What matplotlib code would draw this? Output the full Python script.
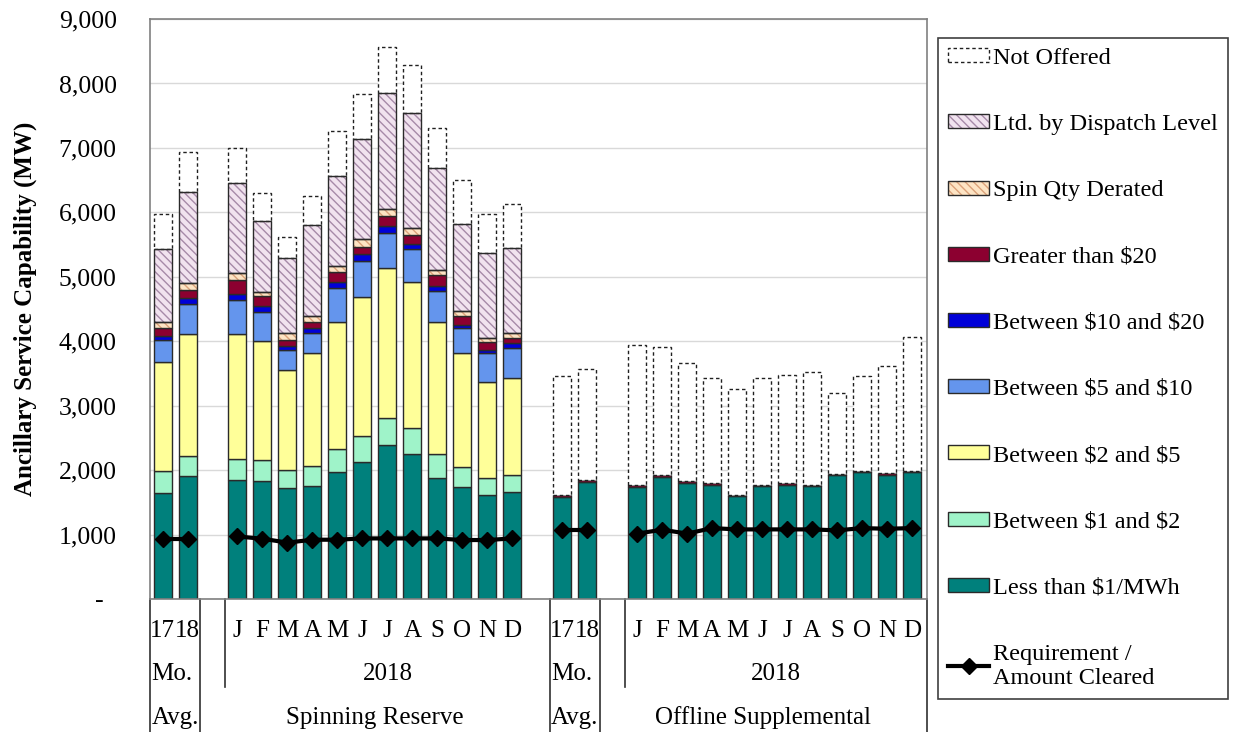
import matplotlib
matplotlib.use("Agg")
import matplotlib.pyplot as plt
from matplotlib.patches import Rectangle
from matplotlib.lines import Line2D
from matplotlib.legend_handler import HandlerTuple
import matplotlib.transforms as mtransforms
import numpy as np

plt.rcParams["font.family"] = ["Liberation Serif", "DejaVu Serif"]
plt.rcParams["hatch.linewidth"] = 1.0
plt.rcParams["text.parse_math"] = False

# bar order: spinning (17 avg, 18 avg, J..D), offline (17 avg, 18 avg, J..D)
months = ["J", "F", "M", "A", "M", "J", "J", "A", "S", "O", "N", "D"]
avg_labels = ["17", "18"]

# stacked segment values [MW]
less_1 = [1650, 1905, 1845, 1825, 1720, 1750, 1965, 2120, 2395, 2255, 1885, 1740, 1610, 1660,
          1585, 1820, 1740, 1895, 1805, 1775, 1595, 1750, 1775, 1750, 1920, 1965, 1930, 1965]
btw_1_2 = [340, 320, 325, 325, 275, 320, 355, 410, 410, 400, 370, 305, 275, 260,
           0, 0, 0, 0, 0, 0, 0, 0, 0, 0, 0, 0, 0, 0]
btw_2_5 = [1680, 1895, 1950, 1860, 1555, 1740, 1980, 2155, 2335, 2260, 2045, 1775, 1475, 1510,
           0, 0, 0, 0, 0, 0, 0, 0, 0, 0, 0, 0, 0, 0]
btw_5_10 = [345, 460, 520, 445, 320, 320, 520, 565, 540, 510, 480, 385, 450, 460,
            0, 0, 0, 0, 0, 0, 0, 0, 0, 0, 0, 0, 0, 0]
btw_10_20 = [60, 90, 90, 90, 60, 70, 95, 110, 105, 85, 75, 50, 60, 75,
             0, 0, 0, 0, 0, 0, 0, 0, 0, 0, 0, 0, 0, 0]
gt_20 = [125, 125, 225, 155, 95, 105, 155, 105, 155, 140, 170, 135, 115, 90,
         25, 25, 25, 25, 25, 25, 25, 25, 25, 25, 25, 25, 25, 25]
spin_derated = [105, 105, 100, 60, 110, 80, 90, 120, 110, 105, 85, 75, 65, 75,
                0, 0, 0, 0, 0, 0, 0, 0, 0, 0, 0, 0, 0, 0]
ltd_dispatch = [1125, 1420, 1405, 1105, 1150, 1415, 1400, 1555, 1800, 1780, 1585, 1360, 1320, 1310,
                0, 0, 0, 0, 0, 0, 0, 0, 0, 0, 0, 0, 0, 0]
not_offered = [545, 615, 540, 430, 325, 460, 705, 690, 720, 755, 615, 675, 600, 695,
               1855, 1730, 2175, 1985, 1835, 1630, 1635, 1655, 1680, 1755, 1250, 1475, 1665, 2075]

requirement = [935, 935, 970, 935, 875, 920, 920, 940, 940, 940, 940, 915, 915, 940,
               1065, 1065, 1015, 1075, 1015, 1100, 1080, 1080, 1080, 1080, 1065, 1100, 1090, 1100]

yticks = [0, 1000, 2000, 3000, 4000, 5000, 6000, 7000, 8000, 9000]

# slot positions (gaps between groups)
pos = np.array([0, 1] + list(range(3, 15)) + [16, 17] + list(range(19, 31)))

series = [
    ("Less than $1/MWh", less_1, "#00807c", None, None),
    ("Between $1 and $2", btw_1_2, "#9ff3c9", None, None),
    ("Between $2 and $5", btw_2_5, "#ffff99", None, None),
    ("Between $5 and $10", btw_5_10, "#6495ed", None, None),
    ("Between $10 and $20", btw_10_20, "#0000d8", None, None),
    ("Greater than $20", gt_20, "#8c0030", None, None),
    ("Spin Qty Derated", spin_derated, "#fde4c4", "#dba27a", "\\\\\\\\"),
    ("Ltd. by Dispatch Level", ltd_dispatch, "#f1e3ef", "#a68aa8", "\\\\\\\\"),
]

fig = plt.figure(figsize=(12.33, 7.32), dpi=100)
ax = fig.add_axes([0.1217, 0.1817, 0.6301, 0.7923])

w = 0.72
edge = "#2a2a2a"
bottom = np.zeros(len(pos))
handles = {}
for name, vals, col, hcol, hatch in series:
    v = np.array(vals, dtype=float)
    m = v > 0
    if hatch is None:
        ax.bar(pos[m], v[m], bottom=bottom[m], width=w, color=col,
               edgecolor=edge, linewidth=1, zorder=2)
        handles[name] = Rectangle((0, 0), 1, 1, facecolor=col, edgecolor=edge, linewidth=1)
    else:
        # hatch takes the edge colour, so draw the outline as a second bar
        ax.bar(pos[m], v[m], bottom=bottom[m], width=w, color=col,
               edgecolor=hcol, hatch=hatch, linewidth=0, zorder=2)
        ax.bar(pos[m], v[m], bottom=bottom[m], width=w, fill=False,
               edgecolor=edge, linewidth=1, zorder=3)
        handles[name] = (Rectangle((0, 0), 1, 1, facecolor=col, edgecolor=hcol, hatch=hatch, linewidth=0),
                         Rectangle((0, 0), 1, 1, fill=False, edgecolor=edge, linewidth=1))
    bottom += v

v = np.array(not_offered, dtype=float)
ax.bar(pos, v, bottom=bottom, width=w, color="white", edgecolor="#202020",
       linewidth=1, linestyle=(0, (2.5, 2)), zorder=2)
handles["Not Offered"] = Rectangle((0, 0), 1, 1, facecolor="white", edgecolor="#202020",
                                   linewidth=1, linestyle=(0, (2.5, 2)))

# requirement line, one segment per group
req = np.array(requirement, dtype=float)
for a, b in [(0, 2), (2, 14), (14, 16), (16, 28)]:
    ax.plot(pos[a:b], req[a:b], color="black", linewidth=3, marker="D",
            markersize=8, zorder=4)
handles["Requirement /\nAmount Cleared"] = Line2D([], [], color="black", linewidth=3,
                                                  marker="D", markersize=8)

ax.set_xlim(-0.5, 30.6)
ax.set_ylim(0, 9000)
ax.set_yticks(yticks)
ax.set_yticklabels(["-  " if t == 0 else f"{t:,}" for t in yticks], fontsize=18.5)
ax.tick_params(axis="y", length=0, pad=24)
ax.set_xticks([])
ax.yaxis.grid(True, color="#d9d9d9", linewidth=1)
ax.set_axisbelow(True)
for s in ax.spines.values():
    s.set_color("#808080")
    s.set_linewidth(1.2)

ax.set_ylabel("Ancillary Service Capability (MW)", fontsize=18, fontweight="bold")
ax.yaxis.set_label_coords(-0.145, 0.5)

# category table under the axis
trans = mtransforms.blended_transform_factory(ax.transData, ax.transAxes)
for xl in [-0.5, 1.5, 15.5, 17.5, 30.6]:
    ax.plot([xl, xl], [0, -0.23], transform=trans, color="#303030", linewidth=1.2, clip_on=False)
for xl in [2.5, 18.5]:
    ax.plot([xl, xl], [0, -0.152], transform=trans, color="#303030", linewidth=1.2, clip_on=False)

row1, row2, row3 = -0.056, -0.129, -0.205
fs = 18
top_labels = avg_labels + months + avg_labels + months
for p, lab in zip(pos, top_labels):
    ax.text(p, row1, lab, transform=trans, ha="center", va="center", fontsize=fs)
for x0 in [-0.45, 15.55]:
    ax.text(x0, row2, "Mo.", transform=trans, ha="left", va="center", fontsize=fs)
    ax.text(x0, row3, "Avg.", transform=trans, ha="left", va="center", fontsize=fs)
ax.text(9.0, row2, "2018", transform=trans, ha="center", va="center", fontsize=fs)
ax.text(24.55, row2, "2018", transform=trans, ha="center", va="center", fontsize=fs)
ax.text(8.5, row3, "Spinning Reserve", transform=trans, ha="center", va="center", fontsize=fs)
ax.text(24.05, row3, "Offline Supplemental", transform=trans, ha="center", va="center", fontsize=fs)

order = ["Not Offered", "Ltd. by Dispatch Level", "Spin Qty Derated", "Greater than $20",
         "Between $10 and $20", "Between $5 and $10", "Between $2 and $5",
         "Between $1 and $2", "Less than $1/MWh", "Requirement /\nAmount Cleared"]
leg = fig.legend([handles[k] for k in order], order, loc="upper left",
                 bbox_to_anchor=(0.7607, 0.948), fontsize=17.5, frameon=True,
                 fancybox=False, edgecolor="#404040", framealpha=1,
                 labelspacing=1.86, handlelength=1.72, handleheight=0.5,
                 handletextpad=0.15, borderpad=0.4, borderaxespad=0,
                 handler_map={tuple: HandlerTuple(ndivide=1)})
leg.get_frame().set_linewidth(1.2)

fig.savefig("out.png", dpi=100)
